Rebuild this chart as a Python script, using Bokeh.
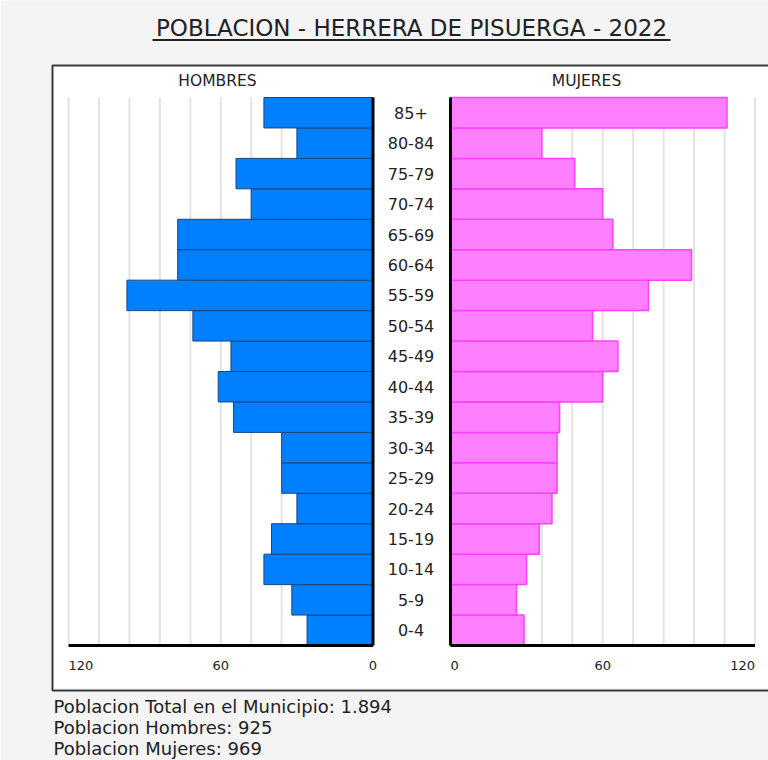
from bokeh.plotting import figure
from bokeh.models import Range1d, Label, BoxAnnotation
from bokeh.embed import file_html
from bokeh.resources import INLINE
from bokeh.core.properties import value

# Age groups from youngest (bottom) to oldest (top)
age_groups = ["0-4", "5-9", "10-14", "15-19", "20-24", "25-29", "30-34", "35-39",
              "40-44", "45-49", "50-54", "55-59", "60-64", "65-69", "70-74",
              "75-79", "80-84", "85+"]
hombres = [26, 32, 43, 40, 30, 36, 36, 55, 61, 56, 71, 97, 77, 77, 48, 54, 30, 43]
mujeres = [29, 26, 30, 35, 40, 42, 42, 43, 60, 66, 56, 78, 95, 64, 60, 49, 36, 109]
grid_ticks = [0, 12, 24, 36, 48, 60, 72, 84, 96, 108, 120]
tick_values = [0, 60, 120]
tick_labels = ["0", "60", "120"]

title_text = "POBLACION - HERRERA DE PISUERGA - 2022"
footer_lines = ["Poblacion Total en el Municipio: 1.894",
                "Poblacion Hombres: 925",
                "Poblacion Mujeres: 969"]

FONT_NAME = "DejaVu Sans"
FONT = value(FONT_NAME)
TEXT = "#222222"

# Page geometry (pixels); the plot frame fills the whole page
W, H = 768, 760
BOX_L, BOX_T, BOX_B = 52, 65, 690
MEN_ZERO, WOMEN_ZERO = 372.5, 450.0
PX = 2.537                      # pixels per person
BARS_TOP, BARS_BOTTOM = 97.0, 645.0
n = len(age_groups)
ROW = (BARS_BOTTOM - BARS_TOP) / n

# Men axis runs right-to-left, women axis left-to-right, both on the same frame
men_range = Range1d(start=MEN_ZERO / PX, end=-(W - MEN_ZERO) / PX)
women_range = Range1d(start=-WOMEN_ZERO / PX, end=(W - WOMEN_ZERO) / PX)
y_range = Range1d(start=-0.5 - (H - BARS_BOTTOM) / ROW,
                  end=n - 0.5 + BARS_TOP / ROW)

def y_at(py):
    """Vertical page pixel -> row units."""
    return -0.5 + (BARS_BOTTOM - py) / ROW

def men_at(px):
    return (MEN_ZERO - px) / PX

def women_at(px):
    return (px - WOMEN_ZERO) / PX

def sy(py):
    """Page pixel -> screen y measured upwards from the bottom."""
    return H - py

p = figure(width=W, height=H, output_backend="svg", toolbar_location=None,
           x_range=men_range, y_range=y_range, title=None,
           x_axis_location=None, y_axis_location=None,
           min_border=0, min_border_left=0, min_border_right=0,
           min_border_top=0, min_border_bottom=0,
           background_fill_color="#f4f4f4", border_fill_color="#f4f4f4",
           outline_line_color=None)
p.extra_x_ranges = {"women": women_range}
p.xgrid.visible = False
p.ygrid.visible = False

# White chart box (open towards the right edge of the page)
p.add_layout(BoxAnnotation(left=BOX_L, right=W + 40, top=sy(BOX_T), bottom=sy(BOX_B),
                           left_units="screen", right_units="screen",
                           top_units="screen", bottom_units="screen",
                           fill_color="white", fill_alpha=1,
                           line_color="#3a3a3a", line_alpha=1, line_width=2,
                           level="underlay"))

ys = list(range(n))
lo, hi = -0.5, n - 0.5

# Vertical grid lines
p.segment(x0=grid_ticks, x1=grid_ticks, y0=lo, y1=hi, line_color="#e3e3e3", line_width=2)
p.segment(x0=grid_ticks, x1=grid_ticks, y0=lo, y1=hi, line_color="#e3e3e3", line_width=2,
          x_range_name="women")

# Bars
p.hbar(y=ys, left=0, right=hombres, height=1, fill_color="#0080ff",
       line_color="#17467f", line_width=1)
p.hbar(y=ys, left=0, right=mujeres, height=1, fill_color="#ff80ff",
       line_color="#ff40ff", line_width=1.5, x_range_name="women")

# Axis lines
p.segment(x0=[0, 0], x1=[0, grid_ticks[-1]], y0=[lo, lo], y1=[hi, lo],
          line_color="black", line_width=3)
p.segment(x0=[0, 0], x1=[0, grid_ticks[-1]], y0=[lo, lo], y1=[hi, lo],
          line_color="black", line_width=3, x_range_name="women")

# Tick labels
ty = y_at(665)
aligns_men = {0: "center", 60: "center", 120: "left"}
aligns_women = {0: "left", 60: "center", 120: "right"}
for v, t in zip(tick_values, tick_labels):
    p.text(x=[v], y=[ty], text=[t], text_align=aligns_men[v], text_baseline="middle",
           text_font=FONT, text_font_size="13px", text_color=TEXT)
    p.text(x=[v], y=[ty], text=[t], text_align=aligns_women[v], text_baseline="middle",
           text_font=FONT, text_font_size="13px", text_color=TEXT, x_range_name="women")

# Panel headings
hy = y_at(80)
p.text(x=[men_at(217)], y=[hy], text=["HOMBRES"], text_align="center",
       text_baseline="middle", text_font=FONT, text_font_size="15.5px", text_color=TEXT)
p.text(x=[women_at(586)], y=[hy], text=["MUJERES"], text_align="center",
       text_baseline="middle", text_font=FONT, text_font_size="15.5px", text_color=TEXT,
       x_range_name="women")

# Age group labels centred between the two panels
p.text(x=[women_at(410.5)] * n, y=ys, text=age_groups, text_align="center",
       text_baseline="middle", text_font=FONT, text_font_size="16px", text_color=TEXT,
       x_range_name="women")

# Title with underline
p.add_layout(Label(x=411, y=sy(27), x_units="screen", y_units="screen",
                   text=title_text, text_align="center", text_baseline="middle",
                   text_font=FONT_NAME, text_font_size="23px", text_color=TEXT))
p.add_layout(BoxAnnotation(left=152, right=670, top=sy(38.5), bottom=sy(40.5),
                           left_units="screen", right_units="screen",
                           top_units="screen", bottom_units="screen",
                           fill_color="#222222", fill_alpha=1, line_color=None))

# Summary lines under the chart
for i, line in enumerate(footer_lines):
    p.add_layout(Label(x=53, y=sy(706 + 21 * i), x_units="screen", y_units="screen",
                       text=line, text_align="left", text_baseline="middle",
                       text_font=FONT_NAME, text_font_size="18px", text_color=TEXT))

open("out.html", "w").write(file_html(p, INLINE))
